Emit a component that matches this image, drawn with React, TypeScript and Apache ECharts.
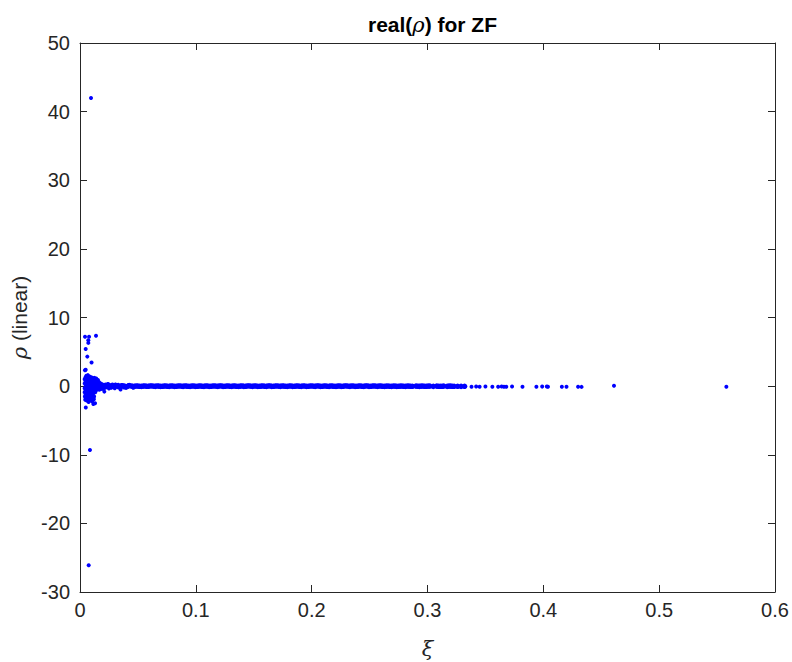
import React, { useEffect, useRef } from "react";
import * as echarts from "echarts";

// Tick labels
const xTicks = [0, 0.1, 0.2, 0.3, 0.4, 0.5, 0.6];
const yTicks = [-30, -20, -10, 0, 10, 20, 30, 40, 50];

// Outlying points near xi ~ 0.01
const outliers: [number, number][] = [
  [0.0095, 42.0], [0.0075, -26.1], [0.0086, -9.3], [0.0043, 7.2], [0.0078, 7.2],
  [0.0138, 7.35], [0.0072, 6.7], [0.0072, 6.3], [0.0049, 5.4], [0.0063, 4.3],
  [0.010, 3.45], [0.0049, 2.4], [0.0043, 2.3], [0.005, -3.1], [0.0115, -2.6], [0.013, -2.5],
];

// Dense blob near the origin
const blob: [number, number][] = [
  [0.0040, 1.0], [0.0040, 0.4], [0.0040, -0.3], [0.0040, -0.9], [0.0042, -1.5], [0.0045, -2.0],
  [0.0048, 1.3], [0.0048, 0.7], [0.0048, 0.0], [0.0048, -0.6], [0.0048, -1.2], [0.0050, -1.8],
  [0.0055, 1.5], [0.0055, 0.9], [0.0055, 0.3], [0.0055, -0.3], [0.0055, -0.9], [0.0057, -1.5], [0.0058, -2.1],
  [0.0062, 1.3], [0.0062, 0.6], [0.0062, 0.0], [0.0062, -0.6], [0.0062, -1.2], [0.0064, -1.8],
  [0.0068, 1.6], [0.0068, 1.0], [0.0068, 0.4], [0.0068, -0.2], [0.0068, -0.8], [0.0070, -1.4], [0.0072, -2.0], [0.0074, -2.3],
  [0.0075, 1.3], [0.0075, 0.7], [0.0075, 0.1], [0.0075, -0.5], [0.0077, -1.1], [0.0079, -1.7],
  [0.0082, 1.4], [0.0082, 0.8], [0.0082, 0.2], [0.0082, -0.4], [0.0082, -1.0], [0.0085, -1.6], [0.0088, -2.1],
  [0.0089, 1.1], [0.0089, 0.5], [0.0089, -0.1], [0.0089, -0.7], [0.0091, -1.3], [0.0094, -1.9],
  [0.0096, 1.3], [0.0096, 0.7], [0.0096, 0.1], [0.0096, -0.5], [0.0098, -1.1], [0.0100, -1.7], [0.0105, -2.2],
  [0.0103, 1.0], [0.0103, 0.4], [0.0103, -0.2], [0.0104, -0.8], [0.0106, -1.4],
  [0.0110, 1.2], [0.0110, 0.6], [0.0110, 0.0], [0.0110, -0.6], [0.0112, -1.2], [0.0120, -1.9],
  [0.0117, 0.9], [0.0117, 0.3], [0.0117, -0.3], [0.0118, -0.9], [0.0122, -1.5],
  [0.0125, 1.2], [0.0125, 0.6], [0.0125, 0.0], [0.0125, -0.6],
  [0.0132, 0.9], [0.0132, 0.3], [0.0132, -0.3], [0.0132, -0.9],
  [0.0140, 1.1], [0.0140, 0.5], [0.0140, -0.1], [0.0140, -0.6],
  [0.0148, 0.8], [0.0148, 0.2], [0.0148, -0.4],
  [0.0155, 0.9], [0.0155, 0.3], [0.0155, -0.3],
  [0.0163, 0.6], [0.0163, 0.0], [0.0163, -0.5],
  [0.0170, 0.4], [0.0170, -0.2], [0.0170, -0.5],
  [0.0178, 0.4], [0.0178, -0.1], [0.0178, -0.4],
  [0.0185, 0.3], [0.0185, -0.3], [0.0192, 0.1], [0.0192, -0.4], [0.0200, 0.2], [0.0200, -0.3],
  [0.021, -0.8], [0.022, 0.25], [0.024, 0.3], [0.025, -0.35], [0.027, -0.25], [0.028, 0.25], [0.030, -0.3],
  [0.031, 0.2], [0.033, 0.2], [0.035, -0.5], [0.036, 0.15], [0.038, -0.2], [0.040, -0.25], [0.042, 0.15], [0.046, -0.25],
];

// Continuous band along zero
const band: [number, number][] = [
  [0.020, 0.02], [0.023, -0.03], [0.026, 0.03], [0.029, -0.04], [0.032, 0.01], [0.035, -0.04],
  [0.038, 0.02], [0.041, -0.02], [0.044, 0.03], [0.047, -0.04], [0.050, 0.0], [0.053, -0.04],
  [0.056, 0.02], [0.059, -0.02], [0.062, 0.03], [0.065, -0.04], [0.068, 0.0], [0.071, -0.03],
  [0.074, 0.02], [0.077, -0.04], [0.080, 0.01], [0.083, -0.02], [0.086, 0.03], [0.089, -0.04],
  [0.092, 0.0], [0.095, -0.04], [0.098, 0.02], [0.101, -0.02], [0.104, 0.03], [0.107, -0.04],
  [0.110, 0.01], [0.113, -0.03], [0.116, 0.02], [0.119, -0.04], [0.122, 0.02], [0.125, -0.02],
  [0.128, 0.03], [0.131, -0.04], [0.134, 0.0], [0.137, -0.04], [0.140, 0.02], [0.143, -0.02],
  [0.146, 0.03], [0.149, -0.04], [0.152, 0.01], [0.155, -0.03], [0.158, 0.02], [0.161, -0.04],
  [0.164, 0.02], [0.167, -0.02], [0.170, 0.03], [0.173, -0.04], [0.176, 0.0], [0.179, -0.04],
  [0.182, 0.02], [0.185, -0.02], [0.188, 0.03], [0.191, -0.04], [0.194, 0.01], [0.197, -0.03],
  [0.200, 0.02], [0.203, -0.04], [0.206, 0.02], [0.209, -0.02], [0.212, 0.03], [0.215, -0.04],
  [0.218, 0.0], [0.221, -0.04], [0.224, 0.02], [0.227, -0.02], [0.230, 0.03], [0.233, -0.04],
  [0.236, 0.01], [0.239, -0.03], [0.242, 0.02], [0.245, -0.04], [0.248, 0.02], [0.251, -0.02],
  [0.254, 0.02], [0.257, -0.04], [0.260, 0.0],
  [0.263, -0.04], [0.266, 0.01], [0.269, -0.04], [0.272, 0.0], [0.275, -0.03], [0.278, 0.01],
  [0.281, -0.04], [0.284, 0.0], [0.287, -0.03],
  [0.290, 0.0], [0.293, -0.04], [0.296, 0.01], [0.299, -0.03], [0.302, 0.0], [0.305, -0.04],
  [0.308, 0.0], [0.311, -0.03], [0.314, 0.0], [0.317, -0.04], [0.320, 0.0], [0.323, -0.03], [0.326, -0.02],
  [0.329, -0.04], [0.332, -0.03],
];

// Additional points interleaved within the band
const bandFill: [number, number][] = [
  [0.0215, -0.15], [0.0245, 0.15], [0.0275, -0.05], [0.0305, 0.12], [0.0335, -0.1], [0.0365, 0.05],
  [0.0395, -0.12], [0.0425, 0.08], [0.0455, -0.04], [0.0485, 0.03], [0.0515, -0.03], [0.0545, 0.0],
  [0.0575, -0.03], [0.0605, 0.02], [0.0635, -0.01], [0.0665, 0.03], [0.0695, -0.04], [0.0725, 0.0],
  [0.0755, -0.02], [0.0785, 0.03], [0.0815, -0.04], [0.0845, 0.01], [0.0875, -0.01], [0.0905, 0.02],
  [0.0935, -0.03], [0.0965, 0.01], [0.0995, -0.04], [0.1025, 0.0], [0.1055, -0.02], [0.1085, 0.03],
  [0.1115, -0.04], [0.1145, 0.01], [0.1175, -0.01], [0.1205, 0.03], [0.1235, -0.04], [0.1265, 0.01],
  [0.1295, -0.02], [0.1325, 0.02], [0.1355, -0.03], [0.1385, 0.0], [0.1415, -0.04], [0.1445, 0.02],
  [0.1475, -0.01], [0.1505, 0.03], [0.1535, -0.04], [0.1565, 0.0], [0.1595, -0.02], [0.1625, 0.03],
  [0.1655, -0.04], [0.1685, 0.01], [0.1715, -0.01], [0.1745, 0.02], [0.1775, -0.03], [0.1805, 0.01],
  [0.1835, -0.04], [0.1865, 0.0], [0.1895, -0.02], [0.1925, 0.03], [0.1955, -0.04], [0.1985, 0.01],
  [0.2015, -0.01], [0.2045, 0.03], [0.2075, -0.04], [0.2105, 0.01], [0.2135, -0.02], [0.2165, 0.02],
  [0.2195, -0.03], [0.2225, 0.0], [0.2255, -0.04], [0.2285, 0.02], [0.2315, -0.01], [0.2345, 0.03],
  [0.2375, -0.04], [0.2405, 0.0], [0.2435, -0.02], [0.2465, 0.03], [0.2495, -0.04], [0.2525, 0.01],
  [0.2555, -0.01], [0.2585, 0.02], [0.2615, -0.03], [0.2645, 0.0], [0.2675, -0.03], [0.2705, 0.01],
  [0.2735, -0.04], [0.2765, 0.0], [0.2795, -0.02], [0.2825, 0.01], [0.2855, -0.03],
  [0.2915, -0.01], [0.2945, 0.0], [0.2975, -0.03], [0.3005, 0.0], [0.3095, -0.02],
  [0.3125, -0.03], [0.3185, 0.0], [0.3215, -0.03],
];

// Sparse tail
const tail: [number, number][] = [
  [0.338, -0.08], [0.342, -0.05], [0.345, -0.1], [0.350, -0.06], [0.356, -0.08], [0.361, -0.1],
  [0.364, -0.05], [0.366, -0.08], [0.368, -0.1], [0.373, -0.06], [0.382, -0.1], [0.394, -0.09],
  [0.399, -0.07], [0.403, -0.05], [0.404, -0.1], [0.416, -0.09], [0.420, -0.08], [0.430, -0.08],
  [0.433, -0.11], [0.461, 0.05], [0.558, -0.1],
];

const dense = [...band, ...bandFill];
const sparse = [...blob, ...outliers, ...tail];

const FONT = "'Liberation Sans', Arial, Helvetica, sans-serif";
const SERIF = "'DejaVu Serif', serif";
const AXIS_COLOR = "#262626";

export default function App() {
  const ref = useRef<HTMLDivElement>(null);
  useEffect(() => {
    if (!ref.current) return;
    const chart = echarts.init(ref.current, null, { renderer: "svg" });
    const xMin = xTicks[0];
    const xMax = xTicks[xTicks.length - 1];
    const yMin = yTicks[0];
    const yMax = yTicks[yTicks.length - 1];
    const common = {
      axisLine: { show: true, onZero: false, lineStyle: { color: AXIS_COLOR, width: 1 } },
      axisTick: { show: true, inside: true, length: 7, lineStyle: { color: AXIS_COLOR } },
      splitLine: { show: false },
    };
    chart.setOption({
      animation: false,
      backgroundColor: "#ffffff",
      title: {
        text: "{b|real(}{i|ρ}{b|) for ZF}",
        left: 363,
        top: 9,
        textStyle: {
          rich: {
            b: { fontFamily: FONT, fontWeight: "bold", fontSize: 21, color: "#000" },
            i: { fontFamily: SERIF, fontStyle: "italic", fontWeight: "normal", fontSize: 21, color: "#000" },
          },
        },
      },
      grid: { left: 80, right: 17, top: 43, bottom: 70, containLabel: false, outerBoundsMode: "none" },
      xAxis: [
        {
          type: "value",
          position: "bottom",
          min: xMin,
          max: xMax,
          interval: 0.1,
          ...common,
          axisLabel: {
            color: AXIS_COLOR,
            fontFamily: FONT,
            fontSize: 20,
            margin: 8,
            formatter: (v: number) => String(+v.toFixed(1)),
          },
          name: "ξ",
          nameLocation: "middle",
          nameGap: 46,
          nameTextStyle: { color: AXIS_COLOR, fontFamily: SERIF, fontStyle: "italic", fontSize: 21 },
        },
        {
          type: "value",
          position: "top",
          min: xMin,
          max: xMax,
          interval: 0.1,
          ...common,
          axisLabel: { show: false },
        },
      ],
      yAxis: [
        {
          type: "value",
          position: "left",
          min: yMin,
          max: yMax,
          interval: 10,
          ...common,
          axisLabel: { color: AXIS_COLOR, fontFamily: FONT, fontSize: 20, margin: 10 },
          name: "{i|ρ} (linear)",
          nameLocation: "middle",
          nameGap: 47,
          nameRotate: 90,
          nameTextStyle: {
            color: AXIS_COLOR,
            fontFamily: FONT,
            fontSize: 21,
            rich: {
              i: { fontFamily: SERIF, fontStyle: "italic", fontSize: 21, color: AXIS_COLOR },
            },
          },
        },
        {
          type: "value",
          position: "right",
          min: yMin,
          max: yMax,
          interval: 10,
          ...common,
          axisLabel: { show: false },
        },
      ],
      series: [
        {
          type: "scatter",
          xAxisIndex: 0,
          yAxisIndex: 0,
          data: dense,
          symbol: "circle",
          symbolSize: 5.5,
          itemStyle: { color: "#0000ff", opacity: 1 },
          silent: true,
        },
        {
          type: "scatter",
          xAxisIndex: 0,
          yAxisIndex: 0,
          data: sparse,
          symbol: "circle",
          symbolSize: 4,
          itemStyle: { color: "#0000ff", opacity: 1 },
          silent: true,
        },
      ],
    });
    return () => chart.dispose();
  }, []);
  return (
    <div
      ref={ref}
      style={{ position: "fixed", left: 0, top: 0, width: 792, height: 662, background: "#fff" }}
    />
  );
}
